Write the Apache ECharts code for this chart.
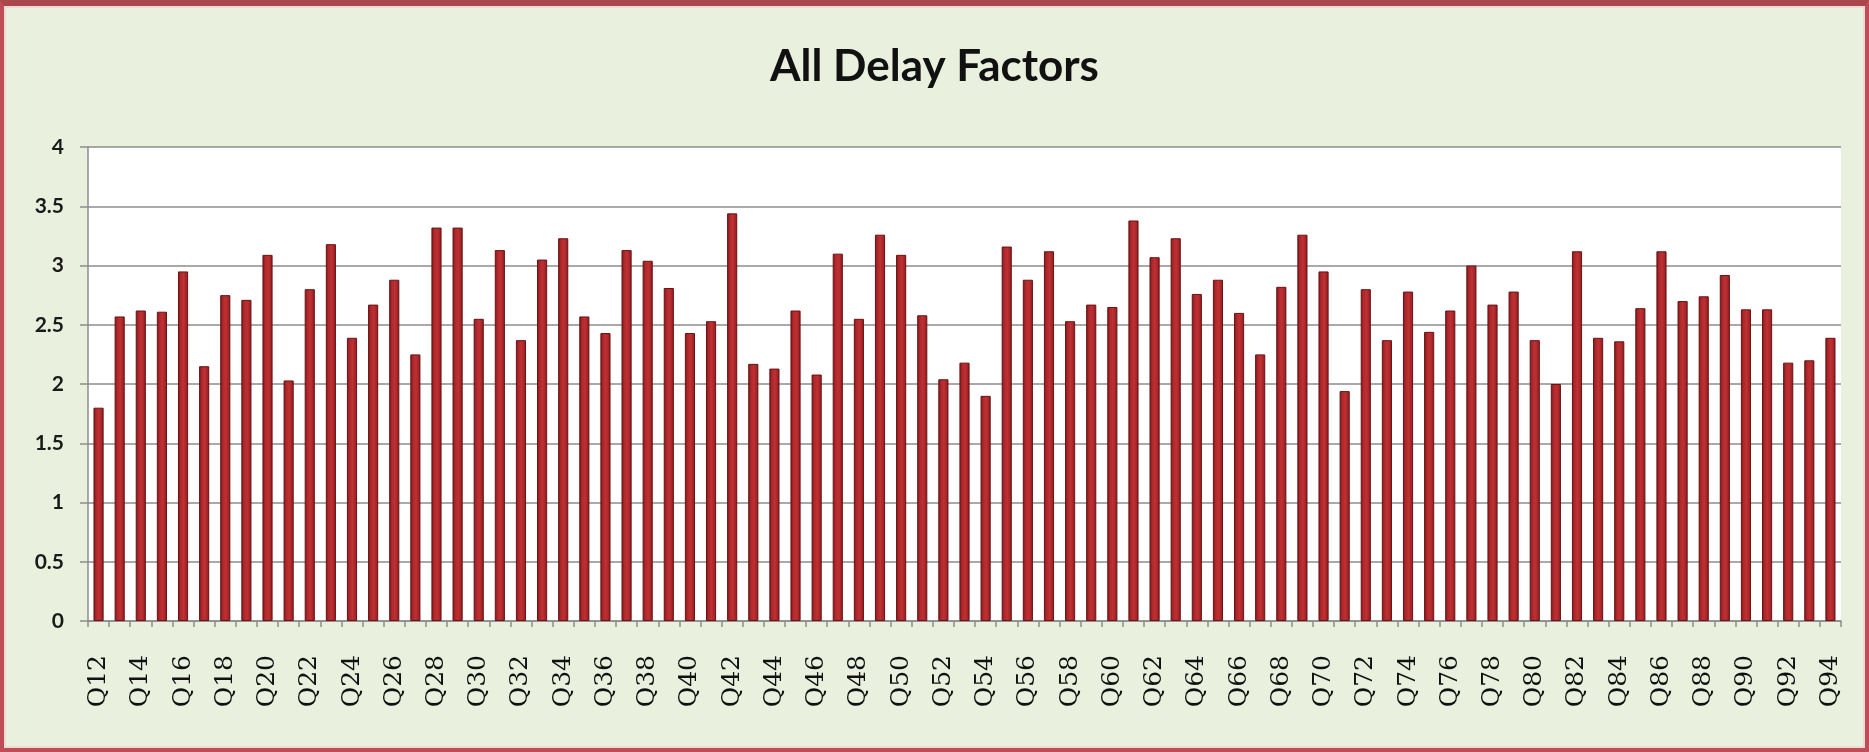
<!DOCTYPE html>
<html>
<head>
<meta charset="utf-8">
<title>All Delay Factors</title>
<script src="https://cdn.jsdelivr.net/npm/echarts@6/dist/echarts.min.js"></script>
<style>
  html, body { margin: 0; padding: 0; background: #e9f0de; }
  #wrap { position: relative; width: 1869px; height: 752px; }
  #chart { position: absolute; left: 0; top: 0; width: 1869px; height: 752px; }
  #frame {
    position: absolute; left: 0; top: 0; width: 1869px; height: 752px;
    box-sizing: border-box; pointer-events: none;
    border: 4px solid #bf4d55; border-top-width: 6px; border-top-color: #a9474d;
    box-shadow: inset 0 0 0 2px #f3d9d2;
  }
</style>
</head>
<body>
<div id="wrap">
  <div id="chart"></div>
  <div id="frame"></div>
</div>
<script>
// Survey items, Q12 .. Q94
const categories = [
  'Q12','Q13','Q14','Q15','Q16','Q17','Q18','Q19','Q20','Q21','Q22','Q23',
  'Q24','Q25','Q26','Q27','Q28','Q29','Q30','Q31','Q32','Q33','Q34','Q35',
  'Q36','Q37','Q38','Q39','Q40','Q41','Q42','Q43','Q44','Q45','Q46','Q47',
  'Q48','Q49','Q50','Q51','Q52','Q53','Q54','Q55','Q56','Q57','Q58','Q59',
  'Q60','Q61','Q62','Q63','Q64','Q65','Q66','Q67','Q68','Q69','Q70','Q71',
  'Q72','Q73','Q74','Q75','Q76','Q77','Q78','Q79','Q80','Q81','Q82','Q83',
  'Q84','Q85','Q86','Q87','Q88','Q89','Q90','Q91','Q92','Q93','Q94'
];

// Mean delay-factor score per item
const delayScores = [
  1.80, 2.57, 2.62, 2.61, 2.95, 2.15, 2.75, 2.71, 3.09, 2.03, 2.80, 3.18,
  2.39, 2.67, 2.88, 2.25, 3.32, 3.32, 2.55, 3.13, 2.37, 3.05, 3.23, 2.57,
  2.43, 3.13, 3.04, 2.81, 2.43, 2.53, 3.44, 2.17, 2.13, 2.62, 2.08, 3.10,
  2.55, 3.26, 3.09, 2.58, 2.04, 2.18, 1.90, 3.16, 2.88, 3.12, 2.53, 2.67,
  2.65, 3.38, 3.07, 3.23, 2.76, 2.88, 2.60, 2.25, 2.82, 3.26, 2.95, 1.94,
  2.80, 2.37, 2.78, 2.44, 2.62, 3.00, 2.67, 2.78, 2.37, 2.00, 3.12, 2.39,
  2.36, 2.64, 3.12, 2.70, 2.74, 2.92, 2.63, 2.63, 2.18, 2.20, 2.39
];

// Value axis range
const yMin = 0;
const yMax = 4;
const yStep = 0.5;

const chart = echarts.init(document.getElementById('chart'), null, { renderer: 'canvas' });

const barFill = new echarts.graphic.LinearGradient(0, 0, 1, 0, [
  { offset: 0, color: '#7a1518' },
  { offset: 0.25, color: '#ad272a' },
  { offset: 0.55, color: '#bf3133' },
  { offset: 0.85, color: '#a02326' },
  { offset: 1, color: '#741417' }
]);

chart.setOption({
  backgroundColor: 'transparent',
  animation: false,
  title: {
    text: 'All Delay Factors',
    left: 'center',
    top: 40,
    textStyle: {
      fontFamily: 'Lato',
      fontWeight: 'bold',
      fontSize: 44,
      color: '#111111'
    }
  },
  grid: {
    left: 88,
    right: 28,
    top: 147,
    bottom: 131,
    show: true,
    backgroundColor: '#ffffff',
    borderWidth: 0
  },
  xAxis: {
    type: 'category',
    data: categories,
    boundaryGap: true,
    axisLine: { show: true, lineStyle: { color: '#8c8c8c', width: 1.5 } },
    axisTick: { show: true, interval: 0, length: 6, lineStyle: { color: '#8c8c8c', width: 1.5 } },
    axisLabel: {
      interval: 1,
      rotate: 90,
      margin: 34,
      fontFamily: 'DejaVu Serif',
      fontSize: 25,
      color: '#111111'
    }
  },
  yAxis: {
    type: 'value',
    min: yMin,
    max: yMax,
    interval: yStep,
    axisLine: { show: true, lineStyle: { color: '#8c8c8c', width: 1.5 } },
    axisTick: { show: true, length: 8, lineStyle: { color: '#8c8c8c', width: 1.5 } },
    splitLine: { show: true, lineStyle: { color: '#8c8c8c', width: 1.5 } },
    axisLabel: {
      margin: 24,
      fontFamily: 'Lato',
      fontWeight: 'bold',
      fontSize: 21,
      color: '#1a1a1a'
    }
  },
  series: [{
    type: 'bar',
    data: delayScores,
    barWidth: '48%',
    itemStyle: {
      color: barFill,
      borderColor: '#6a1315',
      borderWidth: 1
    }
  }]
});
</script>
</body>
</html>
